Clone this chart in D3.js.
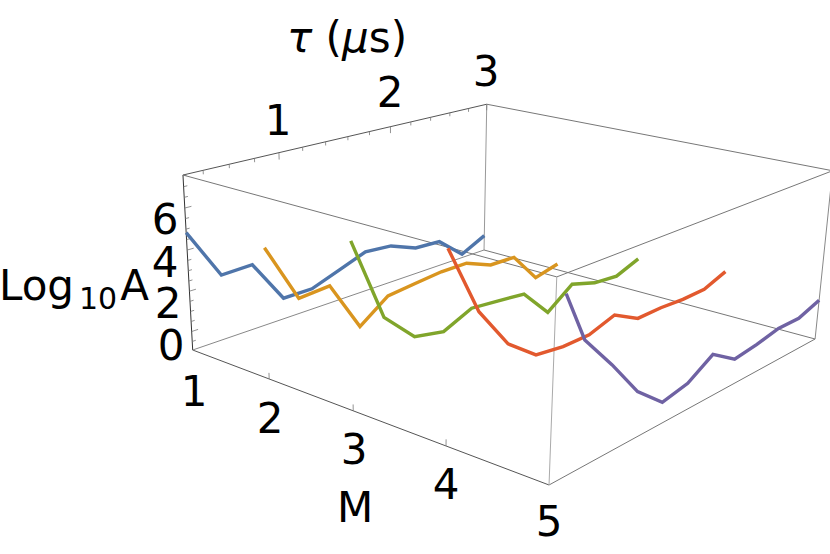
<!DOCTYPE html>
<html><head><meta charset="utf-8">
<style>html,body{margin:0;background:#fff}svg{display:block}text{font-family:"DejaVu Sans",sans-serif;fill:#000}</style>
<script src="https://cdn.jsdelivr.net/npm/d3@7"></script></head><body>
<svg id="c" width="830" height="554"></svg>
<script>
const tauValues=[0.25,0.5,0.75,1,1.25,1.5,1.75,2,2.25,2.5,2.75,3];
const blueZ=[4.83,2.31,2.36,0.15,0.15,0.68,1.21,1.09,0.53,0.45,-0.73,-0.07];
const orangeZ=[5.25,2.41,2.52,-0.02,1.03,1.18,1.31,1.30,0.74,0.70,-0.92,-0.60];
const greenZ=[6.68,2.81,1.38,1.08,1.69,1.54,1.38,-0.07,0.91,0.50,0.38,0.86];
const redZ=[7.50,4.37,2.42,1.36,1.18,1.19,1.62,0.93,0.95,0.87,0.90,1.35];
const purpleZ=[6.73,4.52,2.91,1.15,0.05,0.32,1.09,0.29,0.45,0.70,0.68,1.09];
const purpleTau=[0.33,0.5,0.75,1,1.25,1.5,1.75,2,2.25,2.5,2.75,3];
const series=[
 {m:1,z:blueZ,tau:tauValues,color:"#4F75AA"},
 {m:2,z:orangeZ,tau:tauValues,color:"#D9951F"},
 {m:3,z:greenZ,tau:tauValues,color:"#80A52B"},
 {m:4,z:redZ,tau:tauValues,color:"#E2592E"},
 {m:5,z:purpleZ,tau:purpleTau,color:"#6F62A3"}];
const mTicks=[2,3,4];
const tauMajor=[1,2,3];
const tauMinor=[0.4,0.6,0.8,1.2,1.4,1.6,1.8,2.2,2.4,2.6,2.8];
const zMajor=[0,2,4,6];
const zMinor=[-0.5,0.5,1,1.5,2.5,3,3.5,4.5,5,5.5,6.5,7,7.5];
const mDomain=[1,5],tauDomain=[0.25,3],zDomain=[-0.93,7.54];

const sx=d3.scaleLinear().domain(mDomain).range([0,1]);
const sy=d3.scaleLinear().domain(tauDomain).range([0,1]);
const sz=d3.scaleLinear().domain(zDomain).range([0,1]);
// perspective camera of the box, unit-cube coordinates to screen
function project(X,Y,Z){
  const w=1-0.1802*X+0.2212*Y-0.043*Z;
  return [(192.7+257.4*X+398.4*Y-17.6*Z)/w,(350+47.6*X-44.7*Y-182.5*Z)/w];
}
const pt=(m,t,z)=>project(sx(m),sy(t),sz(z));
const svg=d3.select("#c");
const line=d3.line();
const [m0,m1]=mDomain,[t0,t1]=tauDomain,[z0,z1]=zDomain;
const edges=[
 [[m0,t0,z0],[m1,t0,z0],"#555"],
 [[m0,t0,z0],[m0,t0,z1],"#333"],
 [[m0,t0,z1],[m0,t1,z1],"#555"],
 [[m0,t0,z0],[m0,t1,z0],"#888"],
 [[m0,t1,z0],[m0,t1,z1],"#999"],
 [[m1,t0,z0],[m1,t1,z0],"#777"],
 [[m0,t1,z0],[m1,t1,z0],"#777"],
 [[m1,t1,z0],[m1,t1,z1],"#888"],
 [[m0,t0,z1],[m1,t0,z1],"#777"],
 [[m0,t1,z1],[m1,t1,z1],"#777"],
 [[m1,t0,z1],[m1,t1,z1],"#777"],
 [[m1,t0,z0],[m1,t0,z1],"#aaa"]];
svg.append("g").selectAll("path").data(edges).join("path")
 .attr("d",d=>line([pt(...d[0]),pt(...d[1])])).attr("fill","none").attr("stroke",d=>d[2]).attr("stroke-width",1);
const dz=(z1-z0),dt=(t1-t0);
const ticks=[];
mTicks.forEach(m=>ticks.push([[m,t0,z0],[m,t0,z0+0.035*dz]]));
tauMajor.forEach(t=>ticks.push([[m0,t,z1],[m0,t,z1-0.04*dz]]));
tauMinor.forEach(t=>ticks.push([[m0,t,z1],[m0,t,z1-0.022*dz]]));
zMajor.forEach(z=>ticks.push([[m0,t0,z],[m0,t0+0.018*dt,z]]));
zMinor.forEach(z=>ticks.push([[m0,t0,z],[m0,t0+0.01*dt,z]]));
svg.append("g").selectAll("path").data(ticks).join("path")
 .attr("d",d=>line([pt(...d[0]),pt(...d[1])])).attr("fill","none").attr("stroke","#777").attr("stroke-width",0.8);
svg.append("g").selectAll("path").data(series).join("path")
 .attr("d",s=>line(s.z.map((z,i)=>pt(s.m,s.tau[i],z))))
 .attr("fill","none").attr("stroke",s=>s.color).attr("stroke-width",3.4).attr("stroke-linejoin","miter");

const labelText=["1","2","3","4","5","1","2","3","6","4","2","0","M"];
const labelX=[194,270,354,446,549,278,390,486,165,165,168,171,355];
const labelY=[391,418,449,484,521,120,92,71,219,262,303,345,507];
svg.append("g").selectAll("text").data(labelText).join("text")
 .attr("x",(d,i)=>labelX[i]).attr("y",(d,i)=>labelY[i]).attr("text-anchor","middle").attr("dominant-baseline","central")
 .attr("font-size",42).text(d=>d);
const za=svg.append("text").attr("x",-1).attr("y",300).attr("font-size",42);
za.append("tspan").text("Log");
za.append("tspan").attr("font-size",30).attr("dx",5).attr("dy",9).text("10");
za.append("tspan").attr("dx",3).attr("dy",-9).text("A");
const ta=svg.append("text").attr("x",347).attr("y",52).attr("font-size",42).attr("text-anchor","middle");
ta.append("tspan").attr("font-style","italic").text("τ");
ta.append("tspan").text(" (");
ta.append("tspan").attr("font-style","italic").text("μ");
ta.append("tspan").text("s)");
</script></body></html>
